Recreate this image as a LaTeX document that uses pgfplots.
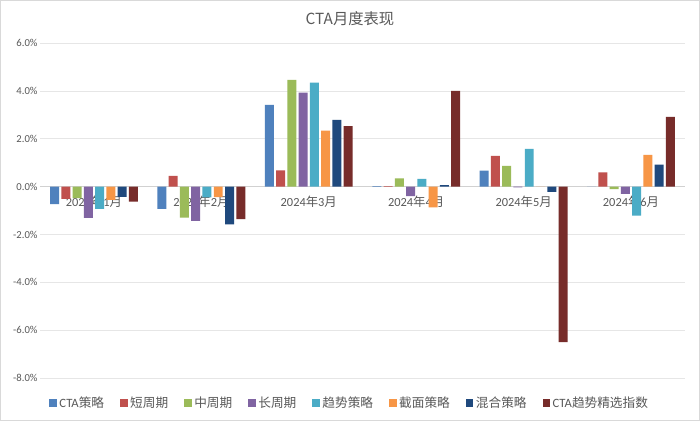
\documentclass[border=0pt]{standalone}
\usepackage{fontspec}
\setmainfont{Carlito}
\newfontfamily\cjk{Noto Sans CJK SC}
\usepackage{pgfplots}
\pgfplotsset{compat=1.18}
\definecolor{c1}{HTML}{4F81BD}
\definecolor{c2}{HTML}{C0504D}
\definecolor{c3}{HTML}{9BBB59}
\definecolor{c4}{HTML}{8064A2}
\definecolor{c5}{HTML}{4BACC6}
\definecolor{c6}{HTML}{F79646}
\definecolor{c7}{HTML}{1F497D}
\definecolor{c8}{HTML}{772C2A}
\definecolor{txt}{HTML}{595959}
\definecolor{grd}{HTML}{E6E6E6}
\pgfplotstableread{
x cta short mid long trend cross mixed idx
0 -0.73 -0.51 -0.48 -1.30 -0.93 -0.55 -0.43 -0.62
1 -0.93 0.45 -1.29 -1.43 -0.45 -0.44 -1.58 -1.36
2 3.42 0.68 4.47 3.93 4.35 2.35 2.79 2.53
3 0.02 0.02 0.35 -0.39 0.33 -0.86 0.07 4.01
4 0.67 1.29 0.87 -0.03 1.58 0.00 -0.22 -6.50
5 0.00 0.60 -0.10 -0.30 -1.21 1.33 0.92 2.92
}\data
\begin{document}
\begin{tikzpicture}
\draw[draw=black!15, fill=white] (0,0) rectangle (525pt,315pt);
\node[text=txt, font=\cjk\fontsize{11.5}{13}\selectfont] at (262.5pt,301.5pt) {CTA月度表现};
\begin{axis}[
  at={(30pt,31.5pt)}, anchor=south west, scale only axis,
  width=483.75pt, height=251.25pt,
  ymin=-8, ymax=6, xmin=-0.5, xmax=5.5,
  ytick={-8,-6,...,6},
  axis y line*=left, y axis line style={draw=none},
  axis x line=middle, x axis line style={-, draw=black!18, line width=0.6pt},
  ymajorgrids, grid style={grd, line width=0.6pt},
  major tick length=0pt,
  xtick={0,...,5},
  xticklabels={2024{\cjk 年}1{\cjk 月},2024{\cjk 年}2{\cjk 月},2024{\cjk 年}3{\cjk 月},2024{\cjk 年}4{\cjk 月},2024{\cjk 年}5{\cjk 月},2024{\cjk 年}6{\cjk 月}},
  xticklabel style={text=txt, font=\fontsize{9.3}{11}\selectfont, yshift=-3.5pt},
  yticklabel={\pgfmathprintnumber[fixed,fixed zerofill,precision=1]{\tick}\%},
  yticklabel style={text=txt, font=\fontsize{8}{9}\selectfont, xshift=1.5pt},
  /pgf/number format/assume math mode=true,
  ybar=1.7pt, bar width=6.75pt,
  legend columns=8,
  legend style={at={(0.4806,-0.0746)}, anchor=center, draw=none, fill=none,
    font=\fontsize{9.5}{11}\selectfont, text=txt,
    /tikz/every even column/.append style={column sep=10pt}},
  legend image code/.code={\fill[#1] (0pt,-2.8pt) rectangle (5.6pt,2.8pt);},
]
\addplot[fill=c1, draw=none] table[x=x,y=cta] {\data};
\addplot[fill=c2, draw=none] table[x=x,y=short] {\data};
\addplot[fill=c3, draw=none] table[x=x,y=mid] {\data};
\addplot[fill=c4, draw=none] table[x=x,y=long] {\data};
\addplot[fill=c5, draw=none] table[x=x,y=trend] {\data};
\addplot[fill=c6, draw=none] table[x=x,y=cross] {\data};
\addplot[fill=c7, draw=none] table[x=x,y=mixed] {\data};
\addplot[fill=c8, draw=none] table[x=x,y=idx] {\data};
\legend{CTA{\cjk 策略},{\cjk 短周期},{\cjk 中周期},{\cjk 长周期},{\cjk 趋势策略},{\cjk 截面策略},{\cjk 混合策略},CTA{\cjk 趋势精选指数}}
\end{axis}
\end{tikzpicture}
\end{document}
